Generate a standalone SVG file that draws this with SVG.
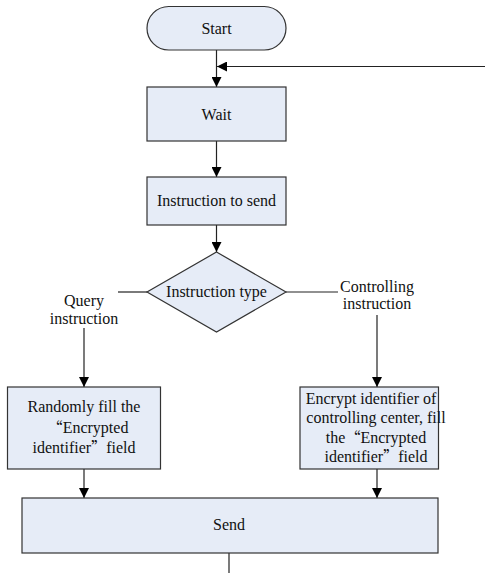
<svg xmlns="http://www.w3.org/2000/svg" width="485" height="573" viewBox="0 0 485 573">
  <style>
    .box { fill: #e6ecf7; stroke: #333; stroke-width: 1.2; }
    .ln { fill: none; stroke: #222; stroke-width: 1.2; }
    text { font-family: "Liberation Serif", "Times New Roman", serif; font-size: 16px; fill: #111; text-anchor: middle; }
    .q { font-family: "Noto Sans CJK SC", sans-serif; font-size: 15px; }
  </style>
  <defs>
    <marker id="arr" viewBox="0 0 10 10" refX="10" refY="5" markerWidth="10" markerHeight="10" markerUnits="userSpaceOnUse" orient="auto">
      <path d="M0,0 L10,5 L0,10 z" fill="#000"/>
    </marker>
  </defs>

  <g id="connectors">
    <path class="ln" d="M216.5,50 V87" marker-end="url(#arr)"/>
    <path class="ln" d="M485,66.5 H217" marker-end="url(#arr)"/>
    <path class="ln" d="M216.5,141 V177" marker-end="url(#arr)"/>
    <path class="ln" d="M216.5,225 V252" marker-end="url(#arr)"/>
    <path class="ln" d="M147,292 H118"/>
    <path class="ln" d="M286,292 H338"/>
    <path class="ln" d="M84,328 V387" marker-end="url(#arr)"/>
    <path class="ln" d="M377,315 V387" marker-end="url(#arr)"/>
    <path class="ln" d="M84,469 V498" marker-end="url(#arr)"/>
    <path class="ln" d="M377,469 V498" marker-end="url(#arr)"/>
    <path class="ln" d="M229,553 V573"/>
  </g>

  <g id="start">
    <rect class="box" x="147" y="6.5" width="139" height="43.5" rx="21.75" ry="21.75"/>
    <text x="216.5" y="34">Start</text>
  </g>
  <g id="wait">
    <rect class="box" x="147" y="87" width="139" height="54"/>
    <text x="216.5" y="120">Wait</text>
  </g>
  <g id="instruction-to-send">
    <rect class="box" x="147" y="177" width="139" height="48"/>
    <text x="216.5" y="206">Instruction to send</text>
  </g>
  <g id="instruction-type">
    <polygon class="box" points="216.5,252 286,292 216.5,332 147,292"/>
    <text x="216.5" y="297">Instruction type</text>
  </g>
  <g id="label-query">
    <text x="84" y="306">Query</text>
    <text x="84" y="324">instruction</text>
  </g>
  <g id="label-controlling">
    <text x="377" y="292">Controlling</text>
    <text x="377" y="309">instruction</text>
  </g>
  <g id="random-fill">
    <rect class="box" x="7.5" y="387" width="153" height="82"/>
    <text x="84" y="412">Randomly fill the</text>
    <text x="88" y="433"><tspan class="q">“</tspan>Encrypted</text>
    <text x="84" y="453">identifier<tspan class="q">”</tspan>field</text>
  </g>
  <g id="encrypt-fill">
    <rect class="box" x="300" y="387" width="138.5" height="82"/>
    <text x="371" y="404">Encrypt identifier of</text>
    <text x="376" y="423">controlling center, fill</text>
    <text x="376" y="443">the<tspan class="q">“</tspan>Encrypted</text>
    <text x="376" y="462">identifier<tspan class="q">”</tspan>field</text>
  </g>
  <g id="send">
    <rect class="box" x="22" y="498" width="416" height="55"/>
    <text x="229" y="530">Send</text>
  </g>
</svg>
